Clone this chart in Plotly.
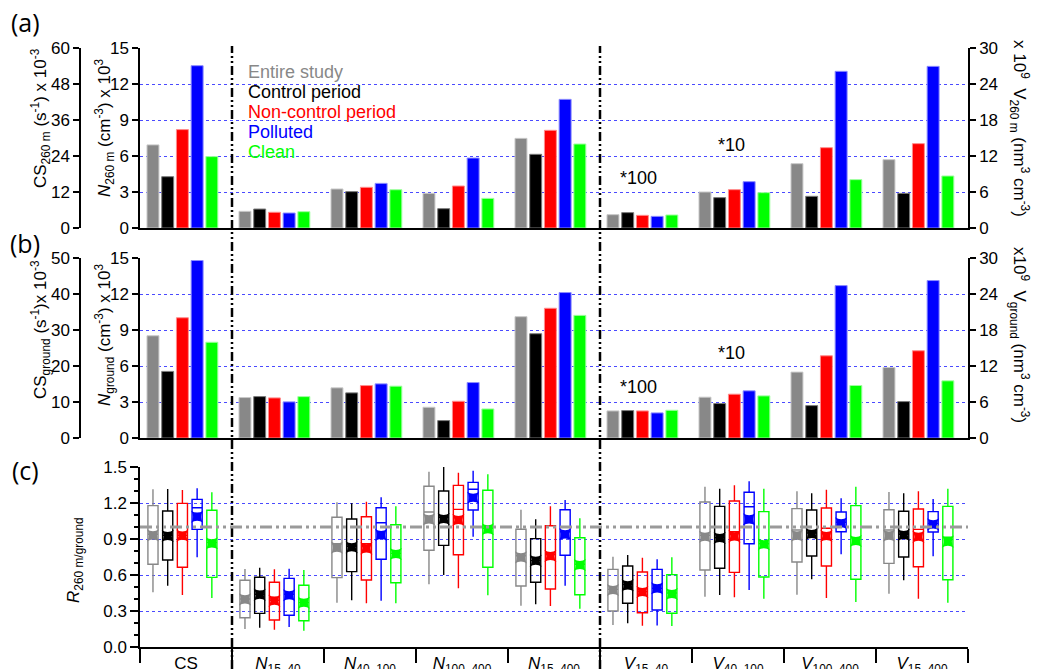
import plotly.graph_objects as go

W, H = 1038, 669

# ---------------- data ----------------
categories = ["CS", "N15-40", "N40-100", "N100-400", "N15-400",
              "V15-40", "V40-100", "V100-400", "V15-400"]
tick_text = ["CS",
             "<i>N</i><sub>15–40</sub>", "<i>N</i><sub>40–100</sub>",
             "<i>N</i><sub>100–400</sub>", "<i>N</i><sub>15–400</sub>",
             "<i>V</i><sub>15–40</sub>", "<i>V</i><sub>40–100</sub>",
             "<i>V</i><sub>100–400</sub>", "<i>V</i><sub>15–400</sub>"]
series = ["Entire study", "Control period", "Non-control period", "Polluted", "Clean"]
colors = ["#888888", "#000000", "#ff0000", "#0000ff", "#00ff00"]
edge_colors = ["#c8c8c8", "#7a7a7a", "#ff8c8c", "#8c8cff", "#a0ffa0"]

# multipliers applied to the volume bars (V15-40, V40-100, V100-400, V15-400)
v_multiplier = [100, 10, 1, 1]

# (a) 260 m: CS (x10^-3 s^-1), N (x10^3 cm^-3), V (x10^9 nm^3 cm^-3)
cs_260 = [27.7, 17.1, 32.8, 54.1, 23.8]
n_260 = [[1.39, 3.25, 2.89, 7.47],
         [1.58, 3.03, 1.61, 6.14],
         [1.31, 3.39, 3.50, 8.14],
         [1.25, 3.72, 5.83, 10.72],
         [1.36, 3.19, 2.47, 7.00]]
v_260 = [[0.0222, 0.600, 10.72, 11.39],
         [0.0256, 0.506, 5.28, 5.78],
         [0.0211, 0.639, 13.39, 14.06],
         [0.0194, 0.772, 26.11, 26.94],
         [0.0217, 0.589, 8.06, 8.67]]

# (b) ground
cs_ground = [28.4, 18.5, 33.4, 49.3, 26.6]
n_ground = [[3.37, 4.18, 2.56, 10.11],
            [3.45, 3.76, 1.45, 8.69],
            [3.34, 4.37, 3.06, 10.81],
            [3.01, 4.51, 4.62, 12.12],
            [3.45, 4.32, 2.42, 10.22]]
v_ground = [[0.0451, 0.680, 10.98, 11.75],
            [0.0457, 0.574, 5.40, 6.07],
            [0.0451, 0.730, 13.70, 14.54],
            [0.0418, 0.786, 25.40, 26.24],
            [0.0462, 0.702, 8.75, 9.53]]

# (c) ratio 260 m / ground: box statistics per series over the 9 categories
r_low = [[0.456, 0.150, 0.369, 0.522, 0.344, 0.183, 0.419, 0.436, 0.444],
         [0.510, 0.160, 0.389, 0.600, 0.356, 0.197, 0.433, 0.564, 0.556],
         [0.433, 0.144, 0.364, 0.489, 0.342, 0.178, 0.414, 0.408, 0.403],
         [0.747, 0.167, 0.386, 0.919, 0.511, 0.180, 0.475, 0.772, 0.756],
         [0.408, 0.136, 0.364, 0.431, 0.319, 0.175, 0.403, 0.375, 0.369]]
r_q1 = [[0.689, 0.244, 0.578, 0.806, 0.508, 0.300, 0.642, 0.708, 0.697],
        [0.725, 0.280, 0.628, 0.847, 0.539, 0.364, 0.656, 0.758, 0.750],
        [0.664, 0.225, 0.558, 0.769, 0.483, 0.286, 0.622, 0.675, 0.669],
        [0.980, 0.264, 0.731, 1.142, 0.764, 0.308, 0.861, 0.961, 0.958],
        [0.580, 0.219, 0.536, 0.664, 0.436, 0.281, 0.583, 0.564, 0.561]]
r_median = [[0.940, 0.400, 0.860, 1.125, 0.760, 0.480, 0.930, 0.975, 0.975],
            [0.930, 0.440, 0.840, 1.080, 0.720, 0.520, 0.910, 0.950, 0.940],
            [0.930, 0.390, 0.860, 1.147, 0.770, 0.460, 0.960, 0.989, 0.980],
            [1.160, 0.440, 1.036, 1.314, 0.960, 0.490, 1.169, 1.040, 1.030],
            [0.870, 0.370, 0.780, 0.990, 0.690, 0.450, 0.860, 0.911, 0.914]]
r_q3 = [[1.178, 0.556, 1.081, 1.339, 0.981, 0.647, 1.208, 1.153, 1.144],
        [1.133, 0.581, 1.067, 1.300, 0.903, 0.675, 1.172, 1.142, 1.131],
        [1.197, 0.539, 1.086, 1.347, 1.011, 0.625, 1.217, 1.158, 1.150],
        [1.230, 0.572, 1.161, 1.372, 1.144, 0.647, 1.289, 1.125, 1.128],
        [1.139, 0.514, 1.019, 1.306, 0.911, 0.603, 1.128, 1.178, 1.172]]
r_high = [[1.314, 0.650, 1.206, 1.461, 1.144, 0.753, 1.336, 1.297, 1.292],
          [1.317, 0.661, 1.197, 1.503, 1.064, 0.767, 1.319, 1.281, 1.281],
          [1.308, 0.647, 1.211, 1.453, 1.172, 0.744, 1.347, 1.311, 1.297],
          [1.322, 0.653, 1.247, 1.469, 1.225, 0.731, 1.381, 1.239, 1.233],
          [1.289, 0.642, 1.172, 1.439, 1.072, 0.747, 1.319, 1.336, 1.319]]
r_mean = [[0.930, 0.397, 0.828, 1.064, 0.747, 0.475, 0.919, 0.928, 0.928],
          [0.925, 0.436, 0.831, 1.067, 0.719, 0.514, 0.908, 0.942, 0.933],
          [0.928, 0.386, 0.822, 1.058, 0.758, 0.458, 0.922, 0.925, 0.919],
          [1.086, 0.431, 0.933, 1.244, 0.939, 0.489, 1.064, 1.031, 1.022],
          [0.864, 0.369, 0.775, 0.981, 0.683, 0.442, 0.856, 0.883, 0.878]]

# ---------------- layout helpers ----------------
FONT = "Liberation Sans, Arial, sans-serif"
GRID = "#4a4aff"

def fx(px):
    return px / W

def fy(py):
    return 1 - py / H

X0, X1 = 140, 968
dom_x = [fx(X0), fx(X1)]
dom_a = [fy(228), fy(48)]
dom_b = [fy(438), fy(258)]
dom_c = [fy(647), fy(467)]

BAR_W = 0.13
FIRST = 0.141
STEP = 0.160
BOX_W = 0.11

def pos(cat_idx, k):
    return cat_idx + FIRST + k * STEP

fig = go.Figure()

def add_bars(cs_vals, n_vals, v_vals, xa, ya_n, ya_cs, ya_v):
    for k in range(5):
        common = dict(marker=dict(color=colors[k], line=dict(color=edge_colors[k], width=1)),
                      width=BAR_W, showlegend=False, xaxis=xa, hoverinfo="skip")
        fig.add_trace(go.Bar(x=[pos(0, k)], y=[cs_vals[k]], yaxis=ya_cs, **common))
        fig.add_trace(go.Bar(x=[pos(i, k) for i in range(1, 5)], y=n_vals[k], yaxis=ya_n, **common))
        fig.add_trace(go.Bar(x=[pos(i, k) for i in range(5, 9)],
                             y=[v * m for v, m in zip(v_vals[k], v_multiplier)],
                             yaxis=ya_v, **common))

add_bars(cs_260, n_260, v_260, "x", "y", "y2", "y3")
add_bars(cs_ground, n_ground, v_ground, "x2", "y4", "y5", "y6")

for k in range(5):
    xs = [pos(i, k) for i in range(9)]
    fig.add_trace(go.Box(x=xs, q1=r_q1[k], median=r_median[k], q3=r_q3[k],
                         lowerfence=r_low[k], upperfence=r_high[k],
                         width=BOX_W, whiskerwidth=0,
                         line=dict(color=colors[k], width=1.4),
                         fillcolor="rgba(255,255,255,0)",
                         xaxis="x3", yaxis="y7", showlegend=False, hoverinfo="skip"))
    fig.add_trace(go.Scatter(x=xs, y=r_mean[k], mode="markers",
                             marker=dict(symbol="star-square", size=11, color=colors[k],
                                         line=dict(width=0)),
                             xaxis="x3", yaxis="y7", showlegend=False, hoverinfo="skip"))

tick_font = dict(family=FONT, size=17, color="black")

def xa_common(domain, anchor):
    return dict(domain=domain, anchor=anchor, range=[0, 9], showgrid=False, zeroline=False,
                showline=True, linecolor="black", linewidth=2, ticks="",
                showticklabels=False, fixedrange=True, automargin=False)

def y_left(domain, anchor, rng, dtick, grid=True):
    return dict(domain=domain, anchor=anchor, range=rng, dtick=dtick, tick0=0,
                showline=True, linecolor="black", linewidth=1.5,
                ticks="outside", ticklen=6, tickwidth=1.5, tickcolor="black",
                showgrid=grid, gridcolor=GRID, griddash="dot", gridwidth=1,
                zeroline=False, tickfont=tick_font, fixedrange=True, automargin=False)

layout = dict(
    width=W, height=H, margin=dict(l=0, r=0, t=0, b=0, autoexpand=False),
    paper_bgcolor="white", plot_bgcolor="white",
    barmode="overlay", boxmode="overlay",
    font=dict(family=FONT, size=17, color="black"),
    xaxis=xa_common(dom_x, "y"),
    xaxis2=xa_common(dom_x, "y4"),
    xaxis3=dict(domain=dom_x, anchor="y7", range=[0, 9], showgrid=False, zeroline=False,
                showline=True, linecolor="black", linewidth=2,
                tickmode="array", tickvals=[i + 0.5 for i in range(9)], ticktext=tick_text,
                ticks="outside", ticklen=0, ticklabelstandoff=0,
                tickfont=dict(family=FONT, size=17, color="black"),
                minor=dict(tickvals=list(range(10)), ticks="outside", ticklen=14,
                           tickwidth=1.5, tickcolor="black", showgrid=False),
                fixedrange=True, automargin=False),
    yaxis=y_left(dom_a, "x", [0, 15], 3),
    yaxis2=dict(y_left(dom_a, "free", [0, 60], 12, grid=False), overlaying="y",
                side="left", position=fx(80)),
    yaxis3=dict(y_left(dom_a, "x", [0, 30], 6, grid=False), overlaying="y", side="right"),
    yaxis4=y_left(dom_b, "x2", [0, 15], 3),
    yaxis5=dict(y_left(dom_b, "free", [0, 50], 10, grid=False), overlaying="y4",
                side="left", position=fx(80)),
    yaxis6=dict(y_left(dom_b, "x2", [0, 30], 6, grid=False), overlaying="y4", side="right"),
    yaxis7=dict(y_left(dom_c, "x3", [0, 1.5], 0.3), tickformat=".1f", ticklen=8,
                minor=dict(dtick=0.1, tick0=0, ticks="outside", ticklen=4,
                           tickwidth=1.5, tickcolor="black", showgrid=False)),
)
fig.update_layout(**layout)

# period separators and the unity line
shapes = []
for xb in (1, 5):
    shapes.append(dict(type="line", xref="x3", yref="paper", x0=xb, x1=xb,
                       y0=fy(669), y1=fy(46), layer="above",
                       line=dict(color="black", width=2.5, dash="9px,3px,2px,3px,2px,3px")))
shapes.append(dict(type="line", xref="x3", yref="y7", x0=0, x1=9, y0=1.0, y1=1.0,
                   layer="above",
                   line=dict(color="#9a9a9a", width=3, dash="12px,4px,3px,4px,3px,4px")))
fig.update_layout(shapes=shapes)

ann = []

def text(x, y, s, size=17, angle=0, color="black", xanchor="center", family=FONT):
    ann.append(dict(xref="paper", yref="paper", x=fx(x), y=fy(y), text=s, showarrow=False,
                    textangle=angle, xanchor=xanchor, yanchor="middle",
                    font=dict(family=family, size=size, color=color)))

# panel labels
text(25, 22, "(a)", size=25, family="Open Sans, sans-serif")
text(25, 243, "(b)", size=25, family="Open Sans, sans-serif")
text(25, 470, "(c)", size=25, family="Open Sans, sans-serif")

# axis titles
text(40, 118, "CS<sub>260 m</sub> (s<sup>-1</sup>) x 10<sup>-3</sup>", angle=-90)
text(104, 128, "<i>N</i><sub>260 m</sub> (cm<sup>-3</sup>) x 10<sup>3</sup>", angle=-90)
text(1020, 128, "x 10<sup>9</sup>  V<sub>260 m</sub> (nm<sup>3</sup> cm<sup>-3</sup>)", angle=90)
text(40, 330, "CS<sub>ground</sub> (s<sup>-1</sup>)x 10<sup>-3</sup>", angle=-90)
text(104, 335, "<i>N</i><sub>ground</sub> (cm<sup>-3</sup>) x 10<sup>3</sup>", angle=-90)
text(1020, 335, "x10<sup>9</sup>  V<sub>ground</sub> (nm<sup>3</sup> cm<sup>-3</sup>)", angle=90)
text(75, 560, "<i>R</i><sub>260 m/ground</sub>", angle=-90)

# series key
for k, name in enumerate(series):
    text(246, 72 + k * 20, name, size=18, color=colors[k], xanchor="left")

# multiplier notes
text(638, 178, "*100", size=18)
text(731, 145, "*10", size=18)
text(638, 387, "*100", size=18)
text(731, 353, "*10", size=18)

fig.update_layout(annotations=ann)

fig.write_html("out.html")
